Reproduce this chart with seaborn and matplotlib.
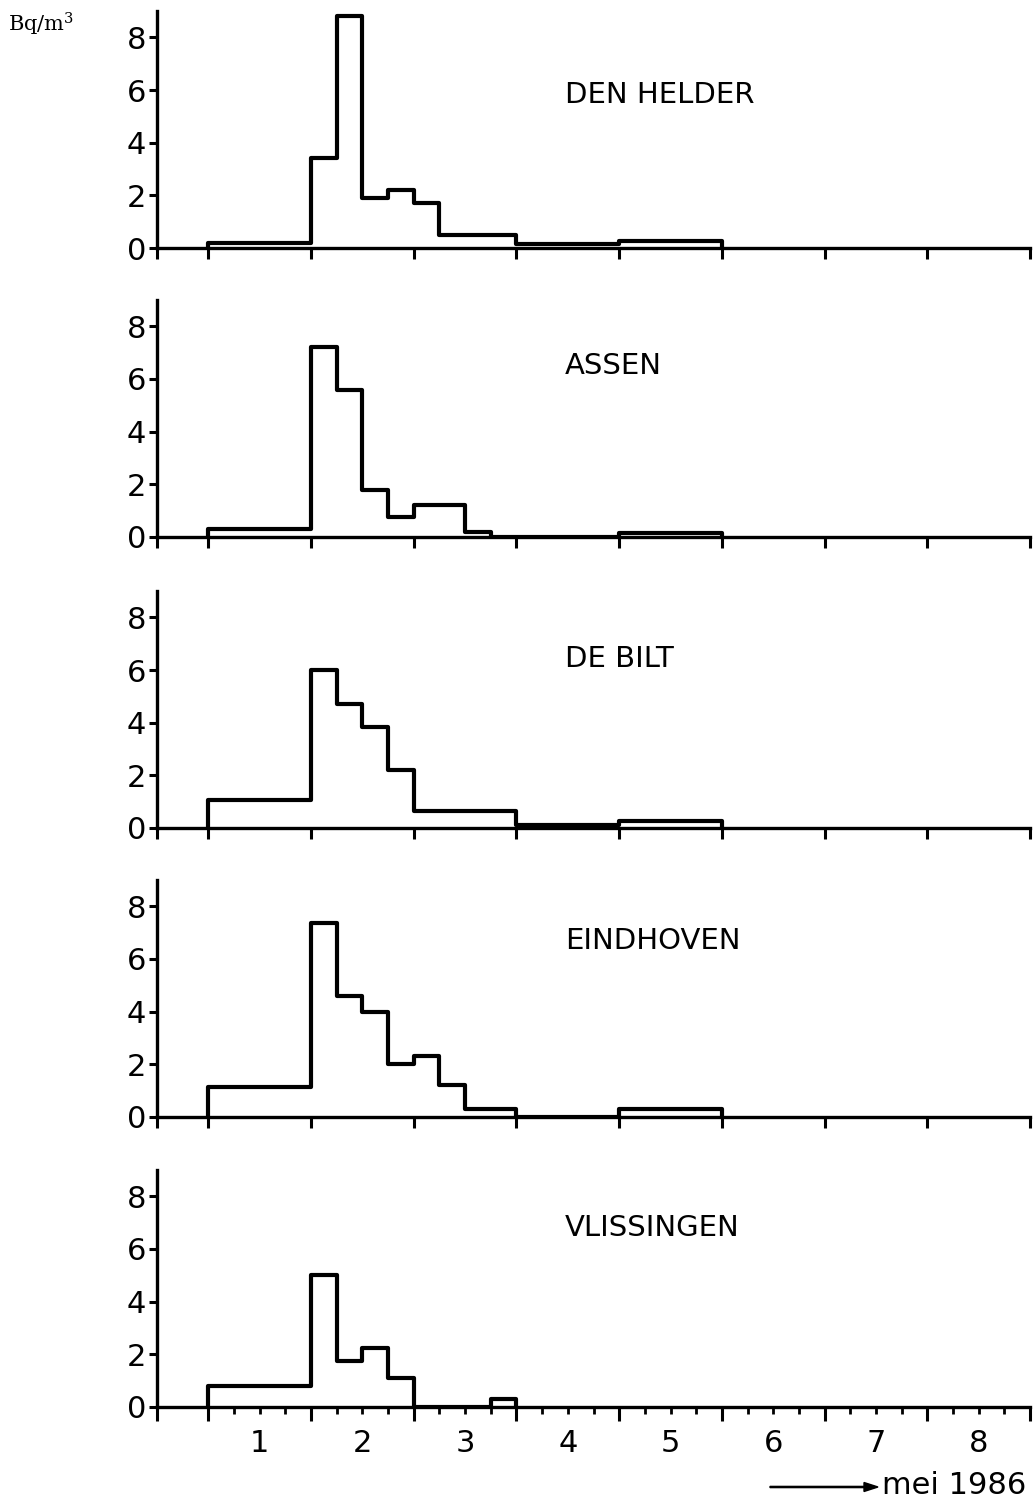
import matplotlib
matplotlib.use("Agg")
import matplotlib.pyplot as plt
import seaborn as sns
import pandas as pd

# ---------------- data (Bq/m3, per time interval, days of May 1986) ----------------
stations = ["DEN HELDER", "ASSEN", "DE BILT", "EINDHOVEN", "VLISSINGEN"]

den_helder_edges = [0.5, 1.5, 1.75, 2.0, 2.25, 2.5, 2.75, 3.5, 4.5, 5.5]
den_helder_values = [0.2, 3.4, 8.8, 1.9, 2.2, 1.7, 0.5, 0.15, 0.25]

assen_edges = [0.5, 1.5, 1.75, 2.0, 2.25, 2.5, 3.0, 3.25, 4.5, 5.5]
assen_values = [0.3, 7.2, 5.6, 1.8, 0.75, 1.2, 0.2, 0.0, 0.15]

de_bilt_edges = [0.5, 1.5, 1.75, 2.0, 2.25, 2.5, 3.5, 4.5, 5.5]
de_bilt_values = [1.05, 6.0, 4.7, 3.85, 2.2, 0.65, 0.1, 0.25]

eindhoven_edges = [0.5, 1.5, 1.75, 2.0, 2.25, 2.5, 2.75, 3.0, 3.5, 4.5, 5.5]
eindhoven_values = [1.15, 7.35, 4.6, 4.0, 2.0, 2.3, 1.2, 0.3, 0.0, 0.3]

vlissingen_edges = [0.5, 1.5, 1.75, 2.0, 2.25, 2.5, 3.25, 3.5]
vlissingen_values = [0.8, 5.0, 1.75, 2.25, 1.1, 0.0, 0.3]

y_ticks = [0, 2, 4, 6, 8]
day_ticks = [1, 2, 3, 4, 5, 6, 7, 8]
day_labels = ["1", "2", "3", "4", "5", "6", "7", "8"]
y_unit = "Bq/m$^{3}$"
x_caption = "mei 1986"

series = [
    (den_helder_edges, den_helder_values),
    (assen_edges, assen_values),
    (de_bilt_edges, de_bilt_values),
    (eindhoven_edges, eindhoven_values),
    (vlissingen_edges, vlissingen_values),
]

# ---------------- style ----------------
sns.set_style("ticks")
plt.rcParams["font.family"] = ["DejaVu Sans"]
plt.rcParams["mathtext.fontset"] = "dejavuserif"
plt.rcParams["text.color"] = "black"
plt.rcParams["xtick.color"] = "black"
plt.rcParams["ytick.color"] = "black"
plt.rcParams["xtick.labelcolor"] = "black"
plt.rcParams["ytick.labelcolor"] = "black"

W, H = 1035, 1506
fig = plt.figure(figsize=(W / 100, H / 100), dpi=100)

zero_y = [248, 537, 828, 1117, 1407]     # pixel row of y=0 for each panel
left_px, right_px = 157, 1030
panel_h_px = 237
label_y = [5.8, 6.5, 6.4, 6.7, 6.8]

major_x = [0.0] + [d + 0.5 for d in range(0, 9)]
quarter = []
for d in range(0, 8):
    for q in (0.75, 1.0, 1.25):
        quarter.append(d + q)

for i, (name, (edges, vals)) in enumerate(zip(stations, series)):
    ax = fig.add_axes([left_px / W, 1 - zero_y[i] / H,
                       (right_px - left_px) / W, panel_h_px / H])
    xs = [edges[0]] + list(edges)
    ys = [0.0] + list(vals) + [0.0]
    df = pd.DataFrame({"t": xs, "c": ys})
    sns.lineplot(data=df, x="t", y="c", ax=ax, estimator=None, sort=False,
                 drawstyle="steps-post", color="black", linewidth=3.0)
    ax.set_xlim(0, 8.5)
    ax.set_ylim(0, 9)
    ax.set_xlabel("")
    ax.set_ylabel("")
    sns.despine(ax=ax)
    for s in ("left", "bottom"):
        ax.spines[s].set_linewidth(2.4)
        ax.spines[s].set_color("black")
    ax.set_yticks(y_ticks)
    ax.set_yticklabels([str(v) for v in y_ticks])
    ax.tick_params(axis="y", direction="out", length=6, width=2.2,
                   labelsize=22, pad=2, color="black", labelcolor="black")
    ax.set_xticks(major_x)
    ax.set_xticklabels([""] * len(major_x))
    ax.tick_params(axis="x", which="major", direction="out", length=8,
                   width=2.2, color="black")
    ax.text(3.97, label_y[i], name, fontsize=21, va="center", ha="left",
            color="black")
    if i == len(stations) - 1:
        labs = [day_labels[day_ticks.index(int(q))] if q == int(q) else "" for q in quarter]
        ax.set_xticks(quarter, labels=labs, minor=True)
        ax.tick_params(axis="x", which="minor", direction="out", length=5,
                       width=2.0, labelsize=22, pad=11, color="black",
                       labelcolor="black")
        ax.tick_params(axis="x", which="major", length=10)

fig.text(8 / W, 1 - 24 / H, y_unit, fontsize=15, family="DejaVu Serif",
         va="center", ha="left", color="black")

fig.patches.append(matplotlib.patches.FancyArrow(
    770 / W, 1 - 1487 / H, 108 / W, 0, width=1.2 / H, head_width=9 / H,
    head_length=14 / W, length_includes_head=True, color="black",
    transform=fig.transFigure, figure=fig))
fig.text(882 / W, 1 - 1486 / H, x_caption, fontsize=22, va="center", ha="left",
         color="black")

fig.savefig("out.png", dpi=100, facecolor="white")
